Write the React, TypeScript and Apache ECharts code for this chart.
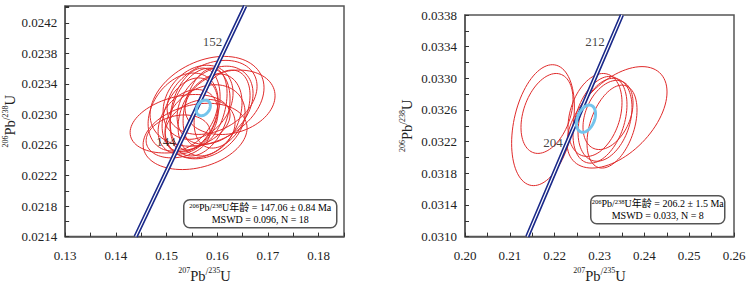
import React, { useEffect, useRef } from 'react';
import * as echarts from 'echarts';

// ---------- Left panel data ----------
const leftXRange = [0.13, 0.185];
const leftYRange = [0.0214, 0.02442];
const leftXStep = 0.005;
const leftXLabelStep = 0.01;
const leftYStep = 0.0002;
const leftYLabelStep = 0.0004;

const leftEllX = [0.15799, 0.16253, 0.15267, 0.15563, 0.15228, 0.15563, 0.15661, 0.1576, 0.15464, 0.15858, 0.15622, 0.15957, 0.15425, 0.1576, 0.16095, 0.15326, 0.15898, 0.15661];
const leftEllY = [0.023172, 0.023159, 0.022878, 0.022712, 0.022712, 0.02307, 0.023031, 0.023095, 0.022993, 0.022993, 0.023159, 0.023121, 0.022904, 0.022904, 0.02307, 0.023031, 0.023223, 0.022814];
const leftEllSX = [0.011236, 0.008871, 0.009857, 0.010251, 0.006308, 0.004928, 0.005914, 0.004337, 0.00552, 0.006308, 0.0069, 0.007491, 0.005914, 0.007885, 0.00552, 0.0069, 0.008871, 0.0069];
const leftEllSY = [0.000588, 0.000422, 0.000383, 0.000434, 0.000281, 0.000537, 0.000575, 0.000511, 0.000485, 0.000537, 0.000485, 0.000511, 0.000422, 0.000485, 0.000511, 0.000511, 0.000485, 0.000383];
const leftEllRho = [0.3, 0.2, 0.3, 0.25, 0.2, 0.3, 0.3, 0.35, 0.3, 0.3, 0.25, 0.3, 0.3, 0.25, 0.35, 0.3, 0.3, 0.2];
const leftMean = [0.15726, 0.023085, 0.00138, 0.000102, 0.3];

const leftConcX = [0.1439, 0.1524, 0.1615, 0.1655];
const leftConcY = [0.0214, 0.02259, 0.02386, 0.02442];
const leftAgeLabels = ['152', '144'];
const leftAgeX = [0.15908, 0.14991];
const leftAgeY = [0.023949, 0.022649];
const leftBoxAge = '147.06 ± 0.84 Ma';
const leftBoxStats = 'MSWD = 0.096, N = 18';

// ---------- Right panel data ----------
const rightXRange = [0.2, 0.26];
const rightYRange = [0.031, 0.0338];
const rightXStep = 0.005;
const rightXLabelStep = 0.01;
const rightYStep = 0.0002;
const rightYLabelStep = 0.0004;

const rightEllX = [0.21740, 0.21829, 0.23391, 0.229, 0.23011, 0.2319, 0.23279, 0.23123];
const rightEllY = [0.032408, 0.032556, 0.032507, 0.032537, 0.032476, 0.032537, 0.03239, 0.032476];
const rightEllSX = [0.00700, 0.0058, 0.01115, 0.00602, 0.00602, 0.00558, 0.00558, 0.00602];
const rightEllSY = [0.000764, 0.000505, 0.000641, 0.000524, 0.000548, 0.000437, 0.000524, 0.000524];
const rightEllRho = [0.3, 0.35, 0.5, 0.3, 0.35, 0.35, 0.4, 0.3];
const rightMean = [0.22699, 0.03249, 0.00212, 0.000172, 0.35];

const rightConcX = [0.2139, 0.2225, 0.2322, 0.235];
const rightConcY = [0.031, 0.03215, 0.03343, 0.0338];
const rightAgeLabels = ['212', '204'];
const rightAgeX = [0.229, 0.21963];
const rightAgeY = [0.03347, 0.032189];
const rightBoxAge = '206.2 ± 1.5 Ma';
const rightBoxStats = 'MSWD = 0.033, N = 8';

const SERIF = '"Liberation Serif", "Times New Roman", serif';
const BOXFONT = '"Liberation Serif", "Noto Sans CJK SC", serif';
const NAVY = '#1b2a8a';
const RED = '#e02a2a';
const BLUE = '#74c4ec';
const AXISC = '#555';

function fmt(min: number, step: number, labelStep: number, digits: number) {
  const ratio = Math.round(labelStep / step);
  return (v: number) => {
    const q = (v - min) / step;
    const k = Math.round(q);
    if (Math.abs(q - k) > 1e-3) return '';
    return k % ratio === 0 ? v.toFixed(digits) : '';
  };
}

const nameRich = {
  sup: { fontSize: 8, fontFamily: SERIF, color: '#222', verticalAlign: 'top', lineHeight: 9 },
  sl: { fontSize: 10, fontFamily: SERIF, color: '#222', verticalAlign: 'top', lineHeight: 12 },
  m: { fontSize: 14.5, fontFamily: SERIF, color: '#222', lineHeight: 18 },
};

function ellipseItems(xs: number[], ys: number[], sxs: number[], sys: number[], rhos: number[]) {
  return xs.map((x, i) => [x, ys[i], sxs[i], sys[i], rhos[i]]);
}

function ellipseSeries(data: number[][], idx: number, color: string, width: number, z: number) {
  return {
    type: 'custom',
    xAxisIndex: idx,
    yAxisIndex: idx,
    z,
    clip: true,
    encode: { x: 0, y: 1 },
    data,
    renderItem: (params: any, api: any) => {
      const cx = api.value(0), cy = api.value(1), sx = api.value(2), sy = api.value(3), r = api.value(4);
      const pts: number[][] = [];
      const N = 90;
      const q = Math.sqrt(1 - r * r);
      for (let i = 0; i < N; i++) {
        const t = (2 * Math.PI * i) / N;
        pts.push(api.coord([cx + sx * Math.cos(t), cy + sy * (r * Math.cos(t) + q * Math.sin(t))]));
      }
      return { type: 'polygon', shape: { points: pts }, style: { fill: 'none', stroke: color, lineWidth: width } };
    },
  };
}

function concSeries(xs: number[], ys: number[], idx: number) {
  const data = xs.map((x, i) => [x, ys[i]]);
  return [
    { type: 'line', xAxisIndex: idx, yAxisIndex: idx, z: 3, data, symbol: 'none', silent: true, lineStyle: { color: NAVY, width: 4.4 } },
    { type: 'line', xAxisIndex: idx, yAxisIndex: idx, z: 4, data, symbol: 'none', silent: true, lineStyle: { color: '#fff', width: 1.2 } },
  ];
}

function ageSeries(labels: string[], xs: number[], ys: number[], idx: number) {
  return {
    type: 'scatter', xAxisIndex: idx, yAxisIndex: idx, z: 6, symbolSize: 0,
    data: labels.map((l, i) => ({ name: l, value: [xs[i], ys[i]] })),
    label: { show: true, position: 'inside', formatter: '{b}', color: '#111', fontSize: 13, fontFamily: SERIF },
  };
}

function xAxis(idx: number, range: number[], step: number, labelStep: number) {
  return {
    type: 'value', gridIndex: idx, min: range[0], max: range[1], interval: step,
    name: '{sup|207}{m|Pb}{sl|/}{sup|235}{m|U}', nameLocation: 'middle', nameGap: 24,
    nameTextStyle: { rich: nameRich },
    axisLine: { show: true, lineStyle: { color: AXISC, width: 1.5 } },
    axisTick: { show: true, inside: true, length: 4, lineStyle: { color: '#333', width: 1 } },
    axisLabel: { formatter: fmt(range[0], step, labelStep, 2), fontSize: 13, fontFamily: SERIF, color: '#222', margin: 12 },
    splitLine: { show: false },
  };
}

function yAxis(idx: number, range: number[], step: number, labelStep: number, gap: number) {
  return {
    type: 'value', gridIndex: idx, min: range[0], max: range[1], interval: step,
    name: '{sup|206}{m|Pb}{sl|/}{sup|238}{m|U}', nameLocation: 'middle', nameGap: gap, nameRotate: 90,
    nameTextStyle: { rich: nameRich },
    axisLine: { show: true, lineStyle: { color: AXISC, width: 1.5 } },
    axisTick: { show: true, inside: true, length: 4, lineStyle: { color: '#333', width: 1 } },
    axisLabel: { formatter: fmt(range[0], step, labelStep, 4), fontSize: 13, fontFamily: SERIF, color: '#222', margin: 8 },
    splitLine: { show: false },
  };
}

const boxRich = {
  sup: { fontSize: 6.5, fontFamily: BOXFONT, color: '#111', verticalAlign: 'top', lineHeight: 8 },
  m: { fontSize: 10, fontFamily: BOXFONT, color: '#111', lineHeight: 12 },
};

function box(left: number, top: number, w: number, h: number, age: string, stats: string) {
  return {
    type: 'group', left, top, z: 10,
    children: [
      { type: 'rect', shape: { x: 0, y: 0, width: w, height: h, r: 6 }, style: { fill: '#fff', stroke: '#555', lineWidth: 1.5 } },
      {
        type: 'text', x: w / 2, y: h / 2,
        style: {
          text: `{sup|206}{m|Pb/}{sup|238}{m|U年龄 = ${age}}\n{m|${stats}}`,
          rich: boxRich, align: 'center', verticalAlign: 'middle',
        },
      },
    ],
  };
}

export default function App() {
  const ref = useRef<HTMLDivElement>(null);
  useEffect(() => {
    if (!ref.current) return;
    const chart = echarts.init(ref.current, null, { renderer: 'svg' });
    chart.setOption({
      animation: false,
      backgroundColor: '#fff',
      grid: [
        { left: 65, top: 6, width: 279, height: 237, show: true, borderColor: AXISC, borderWidth: 1.5, backgroundColor: 'transparent' },
        { left: 465, top: 15, width: 269, height: 227.5, show: true, borderColor: AXISC, borderWidth: 1.5, backgroundColor: 'transparent' },
      ],
      xAxis: [
        xAxis(0, leftXRange, leftXStep, leftXLabelStep),
        xAxis(1, rightXRange, rightXStep, rightXLabelStep),
      ],
      yAxis: [
        yAxis(0, leftYRange, leftYStep, leftYLabelStep, 46),
        yAxis(1, rightYRange, rightYStep, rightYLabelStep, 49),
      ],
      series: [
        ellipseSeries(ellipseItems(leftEllX, leftEllY, leftEllSX, leftEllSY, leftEllRho), 0, RED, 1, 2),
        ...concSeries(leftConcX, leftConcY, 0),
        ellipseSeries([leftMean], 0, BLUE, 3, 5),
        ageSeries(leftAgeLabels, leftAgeX, leftAgeY, 0),
        ellipseSeries(ellipseItems(rightEllX, rightEllY, rightEllSX, rightEllSY, rightEllRho), 1, RED, 1, 2),
        ...concSeries(rightConcX, rightConcY, 1),
        ellipseSeries([rightMean], 1, BLUE, 3, 5),
        ageSeries(rightAgeLabels, rightAgeX, rightAgeY, 1),
      ],
      graphic: [
        box(183, 199, 153, 28, leftBoxAge, leftBoxStats),
        box(590, 195, 134, 28, rightBoxAge, rightBoxStats),
      ],
    });
    return () => chart.dispose();
  }, []);
  return <div ref={ref} style={{ position: 'absolute', left: 0, top: 0, width: 749, height: 288 }} />;
}
